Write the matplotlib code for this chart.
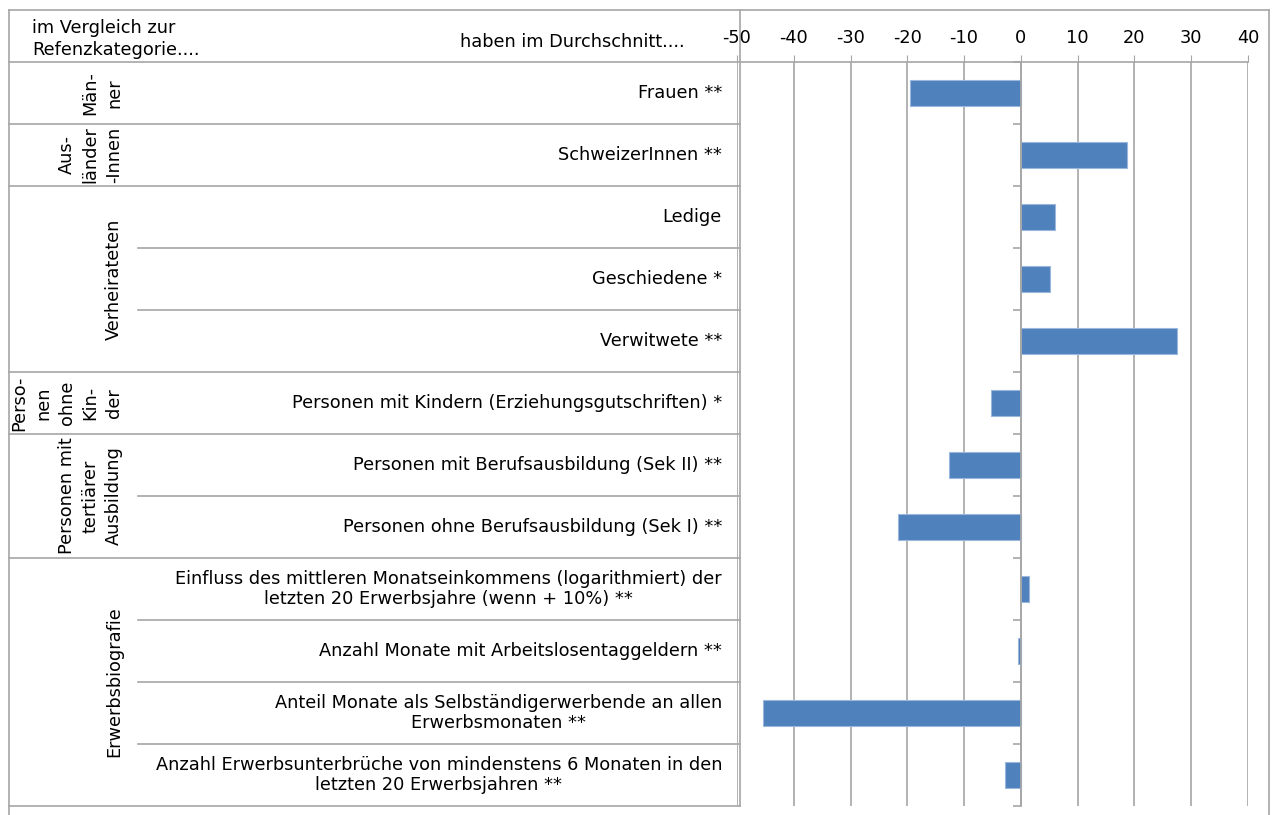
import matplotlib
matplotlib.use("Agg")
import matplotlib.pyplot as plt

# --- data -------------------------------------------------------------
row_labels = [
    "Frauen **",
    "SchweizerInnen **",
    "Ledige",
    "Geschiedene *",
    "Verwitwete **",
    "Personen mit Kindern (Erziehungsgutschriften) *",
    "Personen mit Berufsausbildung (Sek II) **",
    "Personen ohne Berufsausbildung (Sek I) **",
    "Einfluss des mittleren Monatseinkommens (logarithmiert) der\nletzten 20 Erwerbsjahre (wenn + 10%) **",
    "Anzahl Monate mit Arbeitslosentaggeldern **",
    "Anteil Monate als Selbständigerwerbende an allen\nErwerbsmonaten **",
    "Anzahl Erwerbsunterbrüche von mindenstens 6 Monaten in den\nletzten 20 Erwerbsjahren **",
]
values = [-19.5, 18.7, 6.0, 5.1, 27.5, -5.3, -12.6, -21.6, 1.5, -0.5, -45.5, -2.8]

group_labels = ["Män-\nner", "Aus-\nländer\n-Innen", "Verheirateten",
                "Perso-\nnen\nohne\nKin-\nder", "Personen mit\ntertiärer\nAusbildung",
                "Erwerbsbiografie"]
group_sizes = [1, 1, 3, 1, 2, 4]

xticks = list(range(-50, 41, 10))

# --- layout (pixels) ---------------------------------------------------
W, H = 1276, 815
left, right_tab, right_frame = 9, 740, 1269
top, head_bot, row_h = 10, 62, 62
inner_x = 138
ax_left, ax_right = 737, 1248
n = len(values)
bottom = head_bot + n * row_h

line_c = "#a6a6a6"
bar_c = "#4f81bd"
fs = 12.8
plt.rcParams["font.family"] = ["DejaVu Sans"]

fig = plt.figure(figsize=(W / 100, H / 100), dpi=100)
bg = fig.add_axes([0, 0, 1, 1])
bg.set_xlim(0, W)
bg.set_ylim(H, 0)
bg.axis("off")

# outer frame
bg.plot([left, right_frame], [top, top], color=line_c, lw=1.2)
bg.plot([left, left], [top, H], color=line_c, lw=1.2)
bg.plot([right_frame, right_frame], [top, H], color=line_c, lw=1.2)
bg.plot([right_tab, right_tab], [top, bottom], color=line_c, lw=1.2)

# header
bg.text(32, 39, "im Vergleich zur\nRefenzkategorie....", fontsize=fs,
        ha="left", va="center", linespacing=1.25)
bg.text(460, 42, "haben im Durchschnitt....", fontsize=fs, ha="left", va="center")

# group and row lines
bg.plot([left, ax_right], [head_bot, head_bot], color=line_c, lw=1.2)
i = 0
for lab, size in zip(group_labels, group_sizes):
    y0 = head_bot + i * row_h
    y1 = y0 + size * row_h
    bg.plot([left, right_tab], [y1, y1], color=line_c, lw=1.2)
    for k in range(1, size):
        yk = y0 + k * row_h
        bg.plot([inner_x, right_tab], [yk, yk], color=line_c, lw=1.2)
    bg.text(123, (y0 + y1) / 2, lab, rotation=90, fontsize=fs, ha="right",
            va="center", multialignment="center", linespacing=1.4)
    i += size

for j, lab in enumerate(row_labels):
    yc = head_bot + (j + 0.5) * row_h
    bg.text(722, yc, lab, fontsize=fs, ha="right", va="center",
            multialignment="center", linespacing=1.18)

# --- bar chart ---------------------------------------------------------
ax = fig.add_axes([ax_left / W, 1 - bottom / H,
                   (ax_right - ax_left) / W, (bottom - head_bot) / H])
ax.patch.set_alpha(0)
ypos = list(range(n))
ax.barh(ypos, values, height=0.42, color=bar_c, edgecolor="#9bb7db",
        linewidth=0.8, zorder=3)
ax.set_xlim(-50, 40)
ax.set_ylim(n - 0.5, -0.5)
ax.set_xticks(xticks)
ax.set_xticklabels([str(t) for t in xticks], fontsize=fs)
ax.xaxis.tick_top()
ax.tick_params(axis="x", direction="out", length=5, color=line_c, pad=6)
ax.grid(axis="x", color=line_c, lw=1.2, zorder=0)

ax.set_yticks([k - 0.5 for k in range(n + 1)])
ax.set_yticklabels([])
ax.spines["left"].set_position(("data", 0))
ax.spines["left"].set_color(line_c)
ax.spines["left"].set_linewidth(1.2)
ax.spines["left"].set_zorder(4)
ax.tick_params(axis="y", direction="out", length=6, color=line_c, width=1.2)
for s in ("right", "bottom", "top"):
    ax.spines[s].set_visible(False)

fig.savefig("out.png", dpi=100)
